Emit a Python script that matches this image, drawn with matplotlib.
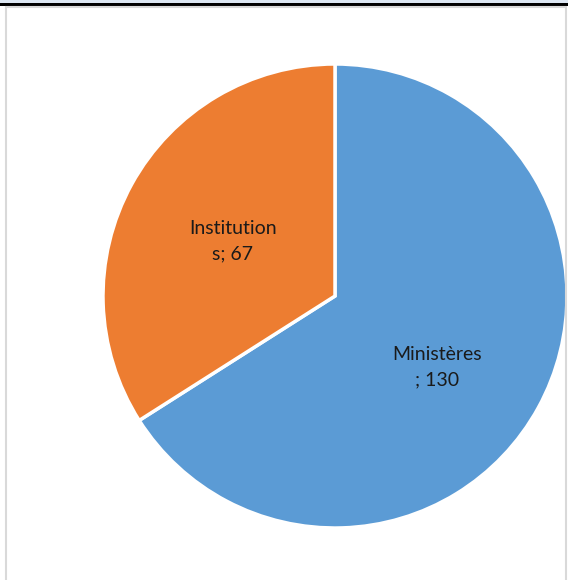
#!/usr/bin/env python3

import matplotlib.pyplot as plt
from matplotlib.patches import Rectangle

# valeurs du graphique
categories = ["Ministères", "Institutions"]
valeurs = [130, 67]
couleurs = ["#5B9BD5", "#ED7D31"]
etiquettes = ["Ministères\n; 130", "Institution\ns; 67"]

W, H = 568, 580
fig = plt.figure(figsize=(W / 100, H / 100), dpi=100, facecolor='white')

# bandeau en haut et cadre gris
fig.patches.append(Rectangle((0, 1 - 3 / H), 1, 3 / H, transform=fig.transFigure,
                             facecolor='#dce6f2', edgecolor='none'))
fig.patches.append(Rectangle((0, 1 - 6 / H), 1, 3 / H, transform=fig.transFigure,
                             facecolor='black', edgecolor='none'))
fig.patches.append(Rectangle((5.5 / W, -0.01), (566 - 5.5) / W, 1 - 7 / H + 0.01,
                             transform=fig.transFigure, facecolor='none',
                             edgecolor='#d9d9d9', linewidth=1.5))

cx, cy, r = 335, 296, 232
ax = fig.add_axes([(cx - r) / W, (H - cy - r) / H, 2 * r / W, 2 * r / H])
ax.axis('off')

wedges, _ = ax.pie(valeurs, colors=couleurs, startangle=90, counterclock=False,
                   radius=1.0, wedgeprops=dict(edgecolor='white', linewidth=2.5))
ax.set_xlim(-1.0, 1.0)
ax.set_ylim(-1.0, 1.0)

police = ['Lato', 'DejaVu Sans']
pos = [(0.44, -0.306), (-0.44, 0.235)]
for (x, y), txt in zip(pos, etiquettes):
    ax.text(x, y, txt, ha='center', va='center', fontsize=14,
            family=police, color='#1a1a1a', linespacing=1.6)

fig.savefig("out.png", dpi=100)
